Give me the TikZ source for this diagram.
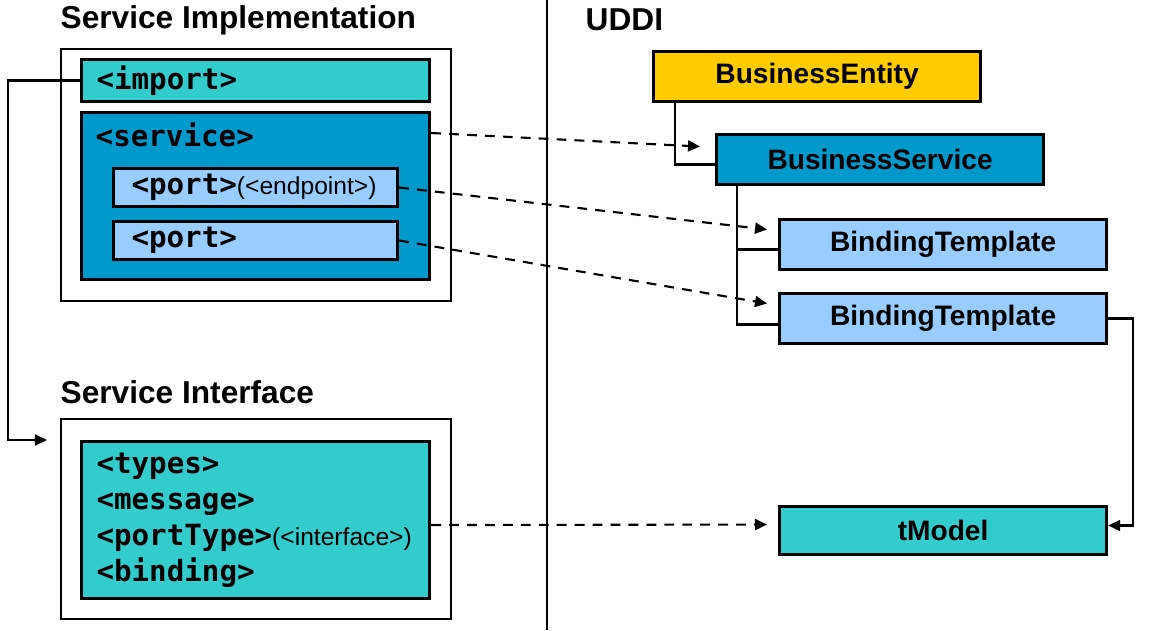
\documentclass[tikz,border=0pt]{standalone}
\usepackage{fontspec}
\setmainfont{Liberation Sans}
\setmonofont{DejaVu Sans Mono}
\usepackage{tikz}
\usetikzlibrary{arrows.meta,calc,positioning}

\definecolor{turquoise}{HTML}{33CCCC}
\definecolor{serviceblue}{HTML}{0099CC}
\definecolor{portblue}{HTML}{99CCFF}
\definecolor{entityyellow}{HTML}{FFCC00}
\newcommand{\plainnote}{\fontsize{7}{9}\selectfont\mdseries\rmfamily}

\begin{document}
\begin{tikzpicture}
[x=0.01cm,y=-0.01cm,
 title/.style={anchor=west,inner sep=0pt,font=\fontsize{9}{11}\selectfont\bfseries},
 frame/.style={draw=black,line width=0.6pt,anchor=north west,inner sep=0pt},
 wsdlbox/.style={draw=black,line width=0.85pt,anchor=north west,inner ysep=0pt,align=left,font=\fontsize{8.3}{10.24}\selectfont\ttfamily\bfseries},
 tag/.style={inner sep=0pt,font=\fontsize{8.3}{10.24}\selectfont\ttfamily\bfseries},
 uddibox/.style={draw=black,line width=0.85pt,anchor=north west,minimum width=3.27cm,minimum height=0.50cm,inner sep=0pt,font=\fontsize{8}{10}\selectfont\bfseries},
 tree/.style={line width=0.6pt},
 link/.style={line width=0.6pt,dash pattern=on 2.8pt off 2.3pt,-{Triangle[length=0.12cm,width=0.11cm]}},
 flow/.style={line width=0.6pt,-{Triangle[length=0.12cm,width=0.11cm]}}]
\useasboundingbox (0,0) rectangle (1158,630);

\node[title] (impltitle) at (60,20) {Service Implementation};
\node[title] (uddititle) at (585,20) {UDDI};
\node[title] (ifacetitle) at (60,392) {Service Interface};

\draw [line width=0.6pt] (547,0) -- (547,630);

\node[frame,minimum width=3.90cm,minimum height=2.52cm] (impl) at (60,48) {};
\node[wsdlbox,fill=turquoise,text width=3.18cm,inner xsep=0.15cm,minimum height=0.42cm] (import) at (80,58) {<import>};
\node[wsdlbox,fill=serviceblue,text width=3.18cm,inner xsep=0.15cm,minimum height=1.67cm] (service) at (80,111) {};
\node[tag,anchor=west] (servicetag) at (95,135) {<service>};
\node[wsdlbox,fill=portblue,text width=2.48cm,inner xsep=0.18cm,minimum height=0.38cm] (port1) at (112,167) {<port>{\plainnote(<endpoint>)}};
\node[wsdlbox,fill=portblue,text width=2.48cm,inner xsep=0.18cm,minimum height=0.38cm] (port2) at (112,220) {<port>};

\node[frame,minimum width=3.90cm,minimum height=2.00cm] (iface) at (60,418) {};
\node[wsdlbox,fill=turquoise,text width=3.18cm,inner xsep=0.15cm,minimum height=1.57cm] (ifacebody) at (80,440) {<types>\\<message>\\<portType>{\plainnote(<interface>)}\\<binding>};
\coordinate (ifaceentry) at (47,440);

\node[uddibox,fill=entityyellow] (be) at (652,50) {BusinessEntity};
\node[uddibox,fill=serviceblue] (bsvc) at (715,133) {BusinessService};
\node[uddibox,fill=portblue] (bt1) at (778,218) {BindingTemplate};
\node[uddibox,fill=portblue] (bt2) at (778,292) {BindingTemplate};
\node[uddibox,fill=turquoise,minimum height=0.48cm] (tmodel) at (778,505) {tModel};

\draw [tree] ([xshift=0.23cm]be.south west) |- ([yshift=-0.05cm]bsvc.west);
\draw [tree] ([xshift=0.22cm]bsvc.south west) |- ([yshift=-0.05cm]bt1.west);
\draw [tree] ([xshift=0.22cm]bsvc.south west) |- ([yshift=-0.06cm]bt2.west);

\draw [flow] (import.west) -- ++(-72,0) |- (ifaceentry);
\draw [flow] (bt2.east) -- ++(25,0) |- ([yshift=0.05cm]tmodel.east);

\draw [link] ([yshift=-0.22cm]service.north east) -- ($(bsvc.west)+(-15,-13)$);
\draw [link] (port1.east) -- ($(bt1.west)+(-11,-15)$);
\draw [link] (port2.east) -- ($(bt2.west)+(-11,-15)$);
\draw [link,shorten >=0.11cm] ([yshift=-0.05cm]ifacebody.east) -- ([yshift=0.06cm]tmodel.west);
\end{tikzpicture}
\end{document}
